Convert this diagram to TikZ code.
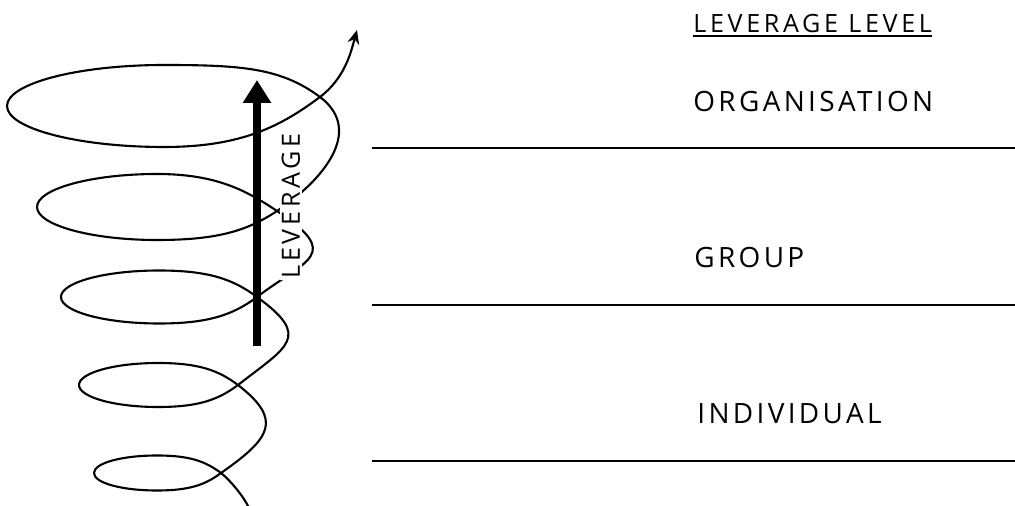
\documentclass[tikz,border=0pt]{standalone}
\usepackage{fontspec}
\usepackage{tikz}
\usetikzlibrary{arrows.meta}
\newfontfamily\levfont{Open Sans}[LetterSpace=12]
\newfontfamily\headfont{Open Sans}[LetterSpace=14.6]
\tikzstyle{coil}=[black,line width=1.2pt,line cap=round]
\tikzstyle{bigaro}=[-{Triangle[length=4.6mm,width=5.4mm]},line width=4pt,color=black]
\tikzstyle{divider}=[black,line width=0.85pt]
\tikzstyle{levtext}=[anchor=west,inner sep=0pt,font=\levfont\fontsize{15.9}{18}\selectfont]
\tikzstyle{headtext}=[anchor=west,inner sep=0pt,font=\headfont\fontsize{14.3}{17}\selectfont]

\begin{document}
\begin{tikzpicture}[x=0.02cm,y=0.02cm]
	\useasboundingbox (0,0) rectangle (1015,-506);
	
	% Coil: crossing (c), top (t), left (l) and bottom (b) of each turn
	\coordinate (s) at (248,-506);
	\coordinate (c5) at (221,-473);
	\coordinate (t5) at (157,-455.5);
	\coordinate (l5) at (94,-473);
	\coordinate (b5) at (157,-490.5);
	\coordinate (c4) at (238,-385);
	\coordinate (t4) at (158,-363);
	\coordinate (l4) at (79,-385);
	\coordinate (b4) at (158,-407);
	\coordinate (c3) at (257,-297);
	\coordinate (t3) at (159,-270.5);
	\coordinate (l3) at (61,-297);
	\coordinate (b3) at (159,-323.5);
	\coordinate (c2) at (277,-211);
	\coordinate (t2) at (157,-174);
	\coordinate (l2) at (37,-207);
	\coordinate (b2) at (157,-240);
	\coordinate (c1) at (320,-97);
	\coordinate (t1) at (164,-65);
	\coordinate (l1) at (7,-106);
	\coordinate (b1) at (164,-147);
	\coordinate (ctip) at (357,-30);
	\draw[coil,-{Stealth[length=2.8mm,width=2.4mm]}] (s) .. controls +(-5,10) and +(10,-8) .. (c5)
		.. controls +(-16,12) and +(32,0) .. (t5) .. controls +(-35,0) and +(0,10) .. (l5)
		.. controls +(0,-10) and +(-35,0) .. (b5) .. controls +(32,0) and +(-16,-12) .. (c5)
		.. controls +(50,35) and +(45,-35) .. (c4)
		.. controls +(-20,15) and +(40,0) .. (t4) .. controls +(-44,0) and +(0,12) .. (l4)
		.. controls +(0,-12) and +(-44,0) .. (b4) .. controls +(40,0) and +(-20,-15) .. (c4)
		.. controls +(50,39) and +(55,-40) .. (c3)
		.. controls +(-24,18) and +(49,0) .. (t3) .. controls +(-54,0) and +(0,14.6) .. (l3)
		.. controls +(0,-14.6) and +(-54,0) .. (b3) .. controls +(49,0) and +(-24,-18) .. (c3)
		.. controls +(50,38) and +(66,-44) .. (c2)
		.. controls +(-30,20) and +(60,0) .. (t2) .. controls +(-66,0) and +(0,18) .. (l2)
		.. controls +(0,-18) and +(-66,0) .. (b2) .. controls +(60,0) and +(-30,-20) .. (c2)
		.. controls +(45,30) and +(45,-34) .. (c1)
		.. controls +(-39,29) and +(78,0) .. (t1) .. controls +(-86,0) and +(0,22.5) .. (l1)
		.. controls +(0,-22.5) and +(-86,0) .. (b1) .. controls +(78,0) and +(-39,-29) .. (c1)
		.. controls +(25,19) and +(-6,-22) .. (ctip);
	
	% Leverage arrow
	\coordinate (abase) at (257,-346);
	\coordinate (atip) at (257,-80);
	\draw[bigaro] (abase) -- (atip);
	\node[headtext, anchor=center, fill=white, inner sep=1pt, rotate=90] (lev) at (291,-206) {LEVERAGE};
	
	% Levels
	\node[headtext] (head) at (693,-24) {LEVERAGE LEVEL};
	\draw[divider] ([yshift=-0.05cm]head.south west) -- ([yshift=-0.05cm]head.south east);
	\node[levtext] (org) at (693,-102) {ORGANISATION};
	\node[levtext] (grp) at (694,-257.5) {GROUP};
	\node[levtext] (ind) at (697,-414) {INDIVIDUAL};
	\draw[divider] (372,-148) -- (1015,-148);
	\draw[divider] (372,-305) -- (1015,-305);
	\draw[divider] (372,-461) -- (1015,-461);
	
\end{tikzpicture}
\end{document}
